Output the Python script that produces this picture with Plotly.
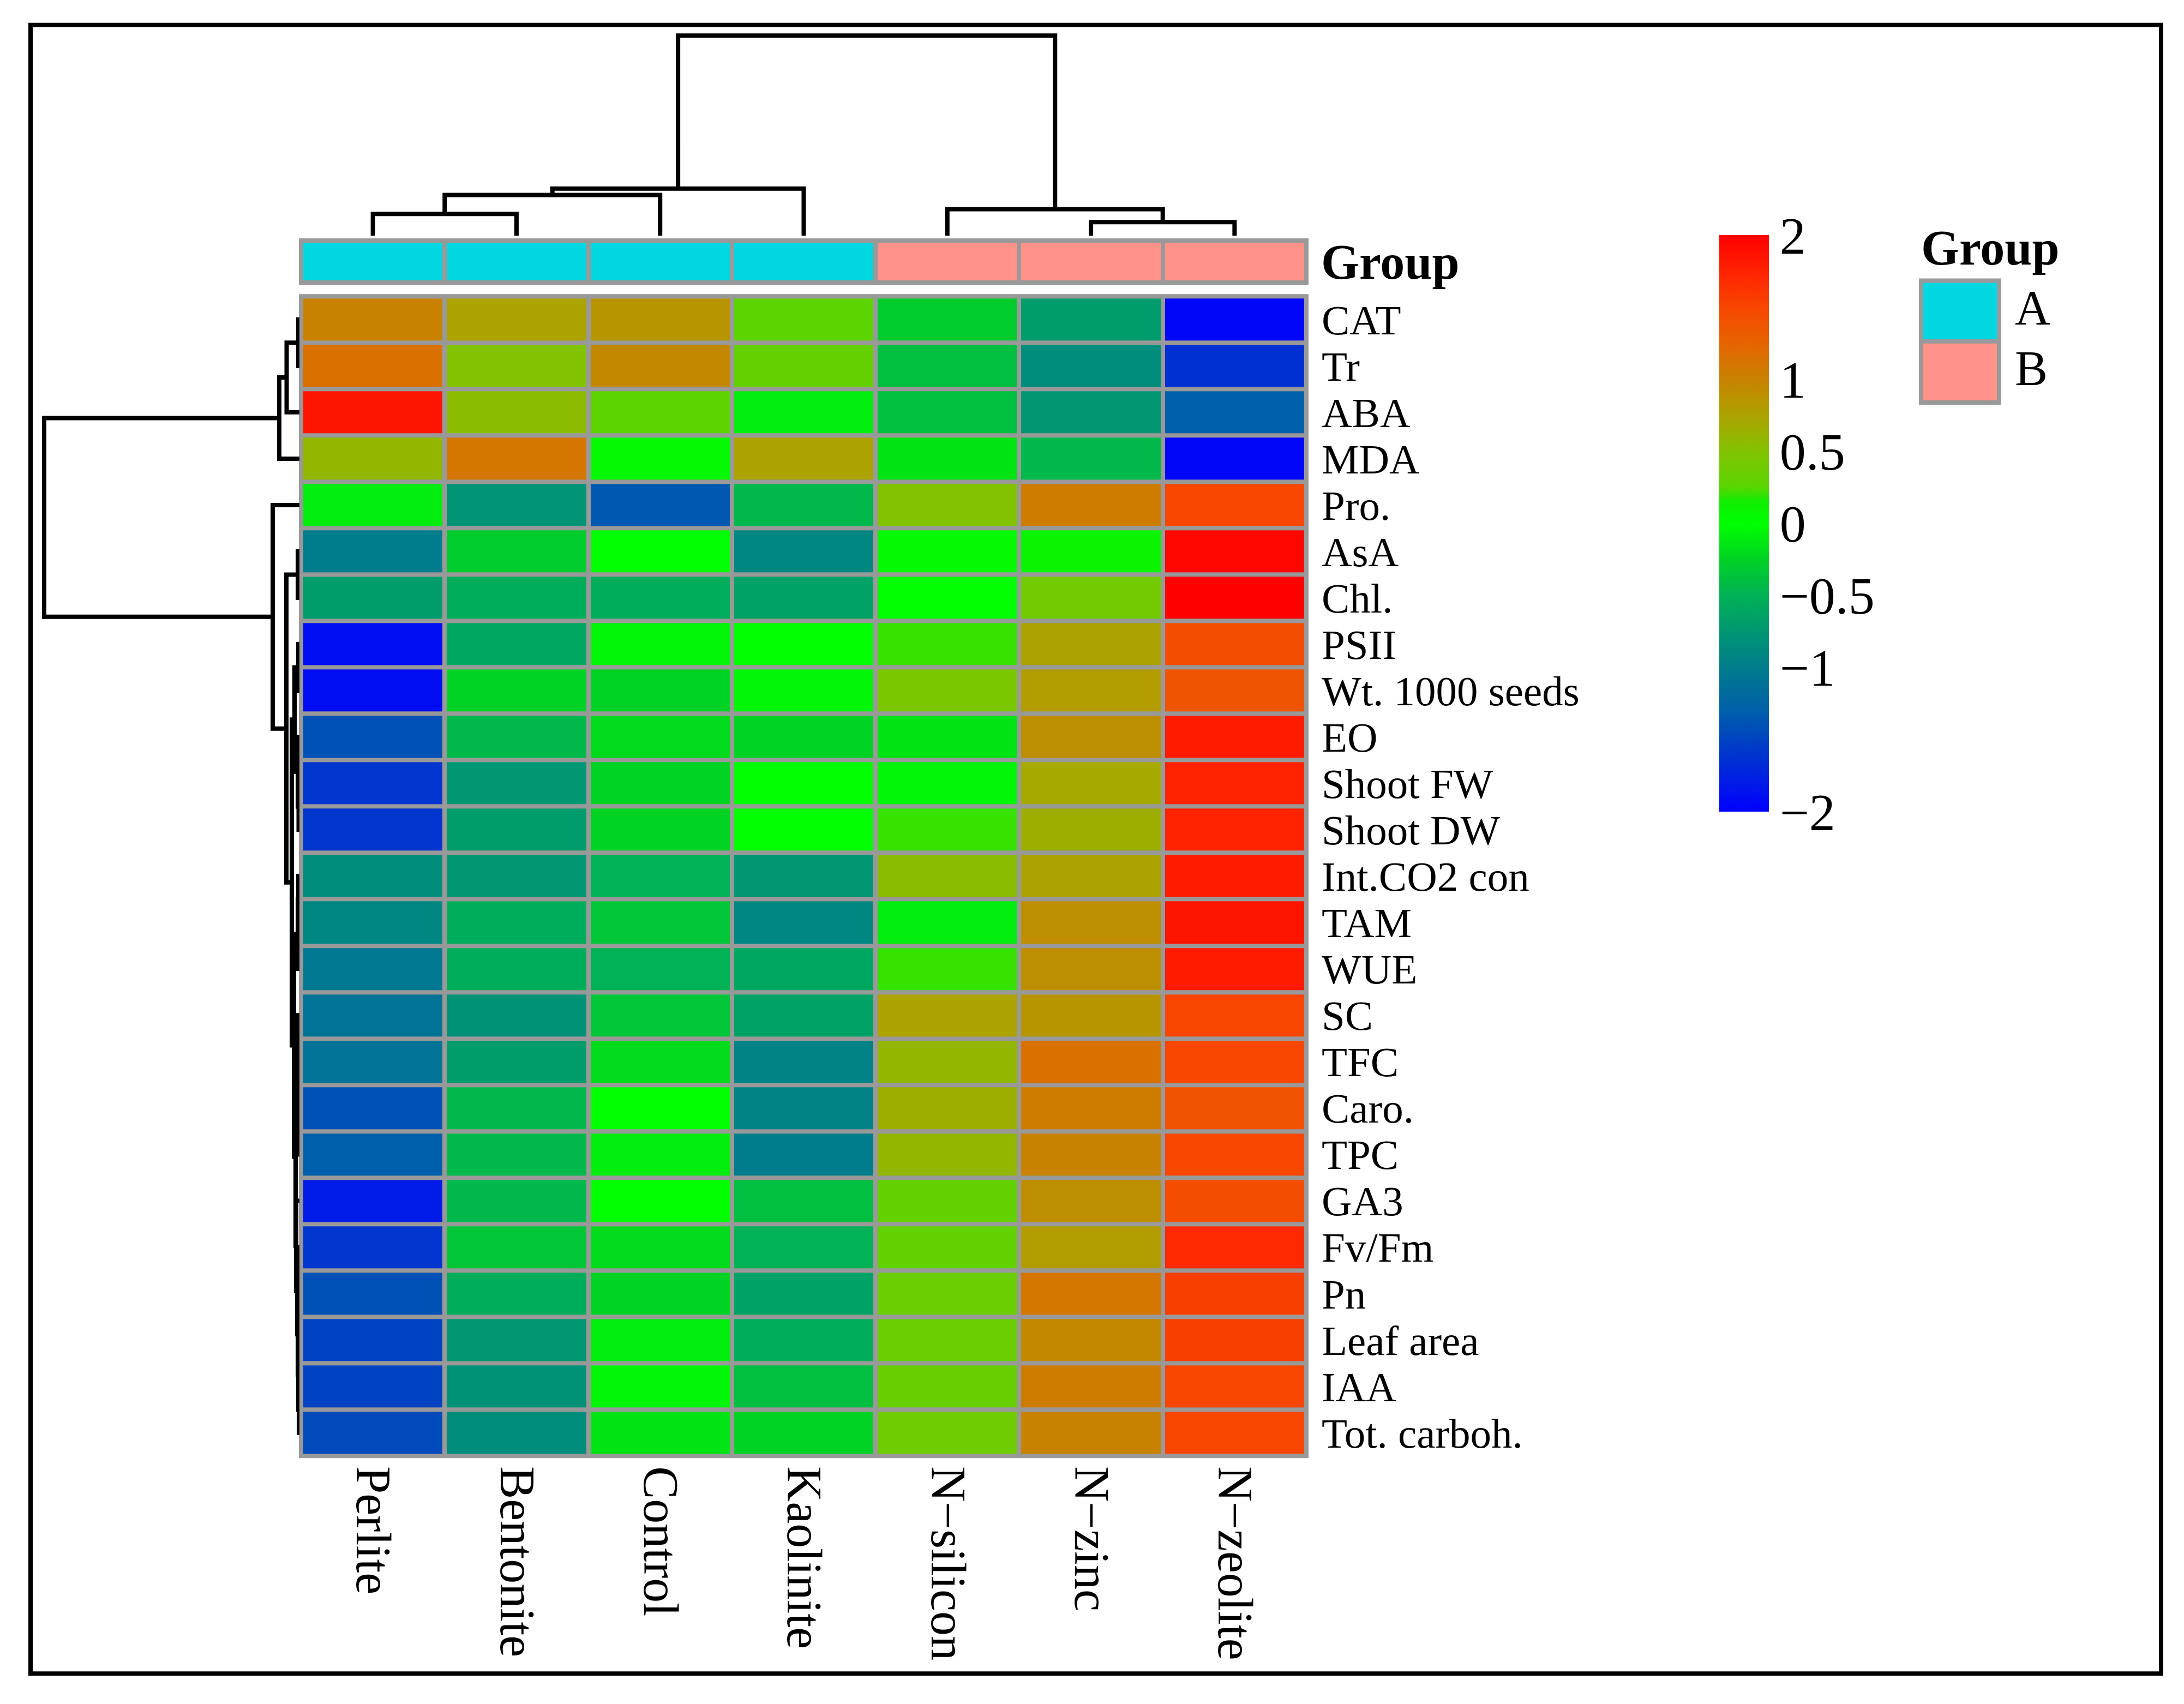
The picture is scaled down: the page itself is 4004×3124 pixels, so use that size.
import plotly.graph_objects as go

W, H = 4004, 3124

# ---------------- data ----------------
col_names = ["Perlite", "Bentonite", "Control", "Kaolinite",
             "N\u2212silicon", "N\u2212zinc", "N\u2212zeolite"]
col_groups = ["A", "A", "A", "A", "B", "B", "B"]
row_names = ["CAT", "Tr", "ABA", "MDA", "Pro.", "AsA", "Chl.", "PSII",
             "Wt. 1000 seeds", "EO", "Shoot FW", "Shoot DW", "Int.CO2 con",
             "TAM", "WUE", "SC", "TFC", "Caro.", "TPC", "GA3", "Fv/Fm", "Pn",
             "Leaf area", "IAA", "Tot. carboh."]

v_CAT = [1.0, 0.75, 0.85, 0.26, -0.3, -0.7, -1.95]
v_Tr = [1.15, 0.5, 0.95, 0.32, -0.4, -0.85, -1.65]
v_ABA = [1.85, 0.55, 0.27, -0.1, -0.4, -0.75, -1.3]
v_MDA = [0.6, 1.1, 0.05, 0.75, -0.15, -0.45, -1.95]
v_Pro = [-0.1, -0.78, -1.35, -0.45, 0.5, 1.05, 1.5]
v_AsA = [-1.0, -0.3, 0.0, -0.9, 0.05, 0.1, 1.95]
v_Chl = [-0.7, -0.55, -0.55, -0.65, 0.0, 0.4, 2.0]
v_PSII = [-1.9, -0.6, -0.05, 0.0, 0.2, 0.75, 1.45]
v_Wt = [-1.9, -0.25, -0.25, -0.05, 0.45, 0.8, 1.38]
v_EO = [-1.4, -0.45, -0.2, -0.25, -0.15, 0.9, 1.8]
v_ShootFW = [-1.6, -0.75, -0.25, 0.0, -0.05, 0.7, 1.75]
v_ShootDW = [-1.6, -0.7, -0.25, 0.0, 0.2, 0.65, 1.75]
v_IntCO2 = [-0.85, -0.75, -0.5, -0.75, 0.55, 0.75, 1.8]
v_TAM = [-0.9, -0.55, -0.35, -0.9, -0.1, 0.9, 1.85]
v_WUE = [-1.05, -0.55, -0.5, -0.6, 0.2, 0.9, 1.8]
v_SC = [-1.1, -0.8, -0.35, -0.65, 0.75, 0.85, 1.5]
v_TFC = [-1.1, -0.7, -0.2, -0.95, 0.6, 1.15, 1.5]
v_Caro = [-1.4, -0.45, 0.0, -0.95, 0.65, 1.05, 1.4]
v_TPC = [-1.3, -0.45, -0.1, -1.0, 0.6, 1.0, 1.5]
v_GA3 = [-1.8, -0.45, 0.0, -0.4, 0.3, 0.9, 1.45]
v_FvFm = [-1.6, -0.35, -0.2, -0.5, 0.3, 0.8, 1.7]
v_Pn = [-1.4, -0.55, -0.25, -0.65, 0.35, 1.1, 1.55]
v_Leaf = [-1.5, -0.75, -0.1, -0.55, 0.35, 0.95, 1.55]
v_IAA = [-1.5, -0.8, -0.05, -0.4, 0.33, 1.05, 1.5]
v_Tot = [-1.45, -0.85, -0.15, -0.25, 0.38, 1.0, 1.5]

z_rows = [v_CAT, v_Tr, v_ABA, v_MDA, v_Pro, v_AsA, v_Chl, v_PSII, v_Wt, v_EO,
          v_ShootFW, v_ShootDW, v_IntCO2, v_TAM, v_WUE, v_SC, v_TFC, v_Caro,
          v_TPC, v_GA3, v_FvFm, v_Pn, v_Leaf, v_IAA, v_Tot]

# column dendrogram merges (left id, right id, height); leaves 0..6, new ids from 7
col_merges = [(0, 1, 40), (7, 2, 75), (8, 3, 87), (5, 6, 25), (4, 10, 49), (9, 11, 369.5)]
# row dendrogram merges; leaves 0..24, new ids from 25
row_merges = [(0, 1, 2), (25, 2, 23.5), (26, 3, 37), (5, 6, 3), (7, 8, 2),
              (10, 11, 1.5), (9, 30, 3), (29, 31, 9), (12, 13, 2), (33, 14, 3),
              (16, 17, 1.5), (35, 18, 2), (15, 36, 3), (23, 24, 1), (22, 38, 2),
              (21, 39, 3), (20, 40, 4), (19, 41, 6), (37, 42, 7), (34, 43, 10),
              (32, 44, 14), (28, 45, 24), (4, 46, 49), (27, 47, 468)]

cb_ticks = [2, 1, 0.5, 0, -0.5, -1, -2]
cb_ticktext = ["2", "1", "0.5", "0", "\u22120.5", "\u22121", "\u22122"]

# colour ramp (value, colour)
ramp_vals = [-2, -1.55, -1.3, -1.0, -0.76, -0.5, -0.22, 0, 0.15, 0.25, 0.5, 0.73,
             1.0, 1.25, 1.5, 1.74, 2]
ramp_cols = ["rgb(0,0,255)", "rgb(0,60,200)", "rgb(0,95,170)", "rgb(0,125,140)",
             "rgb(0,150,115)", "rgb(0,178,85)", "rgb(0,215,30)", "rgb(0,255,0)",
             "rgb(15,238,0)", "rgb(90,213,0)", "rgb(130,195,0)", "rgb(170,165,0)",
             "rgb(200,130,0)", "rgb(230,100,0)", "rgb(248,70,0)", "rgb(255,35,0)",
             "rgb(255,0,0)"]
group_colors = {"A": "#00D7E0", "B": "#FF9289"}

# ---------------- helpers ----------------
FONT = "Liberation Serif"
FS_ROW = 77
FS_GRP = 90
FS_COL = 90
FS_CB = 96
GRID = "#999999"
OFF = 8  # default page body margin of the html page


def px(xp):
    return (xp - OFF) / W


def py(yp):
    return 1 - (yp - OFF) / H


def dendro_xy(merges, n_leaves):
    pos = {i: float(i) for i in range(n_leaves)}
    hgt = {i: 0.0 for i in range(n_leaves)}
    a_list, h_list = [], []
    nid = n_leaves
    for a, b, h in merges:
        a_list += [pos[a], pos[a], pos[b], pos[b], None]
        h_list += [hgt[a], h, h, hgt[b], None]
        pos[nid] = (pos[a] + pos[b]) / 2
        hgt[nid] = h
        nid += 1
    return a_list, h_list


colorscale = [[(v + 2) / 4, c] for v, c in zip(ramp_vals, ramp_cols)]

# geometry (pixels)
HX0, HX1 = 552, 2395
HY0, HY1 = 537, 2678
AY0, AY1 = 434, 512
GAP = 8
LW = 8

fig = go.Figure()

fig.add_trace(go.Heatmap(
    z=z_rows, x=col_names, y=row_names, xaxis="x", yaxis="y",
    colorscale=colorscale, zmin=-2, zmax=2, xgap=GAP, ygap=GAP,
    hoverinfo="skip",
    colorbar=dict(
        x=px(3152), xanchor="left", y=py(424), yanchor="top",
        thickness=91, thicknessmode="pixels", len=1057, lenmode="pixels",
        xpad=0, ypad=0, outlinewidth=0, ticks="",
        tickvals=cb_ticks, ticktext=cb_ticktext,
        tickfont=dict(family=FONT, size=FS_CB, color="black"),
    ),
))

grp_z = [[0 if g == "A" else 1 for g in col_groups]]
fig.add_trace(go.Heatmap(
    z=grp_z, x=col_names, y=["Group"], xaxis="x2", yaxis="y2",
    colorscale=[[0, group_colors["A"]], [0.5, group_colors["A"]],
                [0.5, group_colors["B"]], [1, group_colors["B"]]],
    zmin=0, zmax=1, showscale=False, xgap=GAP, ygap=GAP, hoverinfo="skip",
))

cx, ch = dendro_xy(col_merges, len(col_names))
fig.add_trace(go.Scatter(x=cx, y=ch, mode="lines", xaxis="x3", yaxis="y3",
                         line=dict(color="black", width=LW), hoverinfo="skip",
                         showlegend=False))
ry, rh = dendro_xy(row_merges, len(row_names))
fig.add_trace(go.Scatter(x=rh, y=ry, mode="lines", xaxis="x4", yaxis="y4",
                         line=dict(color="black", width=LW), hoverinfo="skip",
                         showlegend=False))

noax = dict(showgrid=False, zeroline=False, showline=False, showticklabels=False, ticks="")

col_root = max(m[2] for m in col_merges)
row_root = max(m[2] for m in row_merges)
PAD = 12

fig.update_layout(
    width=W, height=H, margin=dict(l=0, r=0, t=0, b=0),
    paper_bgcolor="white", plot_bgcolor="white", showlegend=False,
    font=dict(family=FONT, color="black"),
    xaxis=dict(domain=[px(HX0), px(HX1)], anchor="y", showgrid=False, zeroline=False,
               showline=False, ticks="", tickangle=90, tickmode="array",
               tickvals=col_names, ticktext=col_names,
               tickfont=dict(family=FONT, size=FS_COL, color="black"),
               ticklabelstandoff=18),
    yaxis=dict(domain=[py(HY1), py(HY0)], anchor="x", side="right", autorange="reversed",
               showgrid=False, zeroline=False, showline=False, ticks="",
               tickmode="array", tickvals=row_names, ticktext=row_names,
               tickfont=dict(family=FONT, size=FS_ROW, color="black"),
               ticklabelstandoff=27),
    xaxis2=dict(domain=[px(HX0), px(HX1)], anchor="y2", **noax),
    yaxis2=dict(domain=[py(AY1), py(AY0)], anchor="x2", side="right", showgrid=False,
                zeroline=False, showline=False, ticks="", tickmode="array",
                tickvals=["Group"], ticktext=["<b>Group</b>"],
                tickfont=dict(family=FONT, size=FS_GRP, color="black"),
                ticklabelstandoff=26),
    xaxis3=dict(domain=[px(HX0), px(HX1)], anchor="y3", range=[-0.5, len(col_names) - 0.5], **noax),
    yaxis3=dict(domain=[py(425), py(425 - col_root - PAD)], anchor="x3",
                range=[0, col_root + PAD], **noax),
    xaxis4=dict(domain=[px(549 - row_root - PAD), px(549)], anchor="y4",
                range=[row_root + PAD, 0], **noax),
    yaxis4=dict(domain=[py(HY1), py(HY0)], anchor="x4",
                range=[len(row_names) - 0.5, -0.5], **noax),
)

shapes = []
# grey borders behind heatmap and annotation bar
shapes.append(dict(type="rect", xref="paper", yref="paper", layer="below",
                   x0=px(HX0 - GAP / 2), x1=px(HX1 + GAP / 2),
                   y0=py(HY1 + GAP / 2), y1=py(HY0 - GAP / 2),
                   fillcolor=GRID, line=dict(width=0)))
shapes.append(dict(type="rect", xref="paper", yref="paper", layer="below",
                   x0=px(HX0 - GAP / 2), x1=px(HX1 + GAP / 2),
                   y0=py(AY1 + GAP / 2), y1=py(AY0 - GAP / 2),
                   fillcolor=GRID, line=dict(width=0)))
# outer frame
shapes.append(dict(type="rect", xref="paper", yref="paper",
                   x0=px(56), x1=px(3962), y0=py(3080), y1=py(36),
                   line=dict(color="black", width=8), fillcolor="rgba(0,0,0,0)"))
# legend keys
leg_y = [(508, 620), (620, 733)]
for (y0, y1), g in zip(leg_y, ["A", "B"]):
    shapes.append(dict(type="rect", xref="paper", yref="paper",
                       x0=px(3522), x1=px(3665), y0=py(y1), y1=py(y0),
                       fillcolor=group_colors[g], line=dict(color=GRID, width=8)))

annotations = [
    dict(text="<b>Group</b>", x=px(3520), y=py(448), xref="paper", yref="paper",
         xanchor="left", yanchor="middle", showarrow=False,
         font=dict(family=FONT, size=FS_GRP, color="black")),
]
for (y0, y1), g in zip(leg_y, ["A", "B"]):
    annotations.append(dict(text=g, x=px(3692), y=py((y0 + y1) / 2 - 6), xref="paper",
                            yref="paper", xanchor="left", yanchor="middle",
                            showarrow=False,
                            font=dict(family=FONT, size=FS_GRP, color="black")))

fig.update_layout(shapes=shapes, annotations=annotations)

fig.write_html("out.html")
